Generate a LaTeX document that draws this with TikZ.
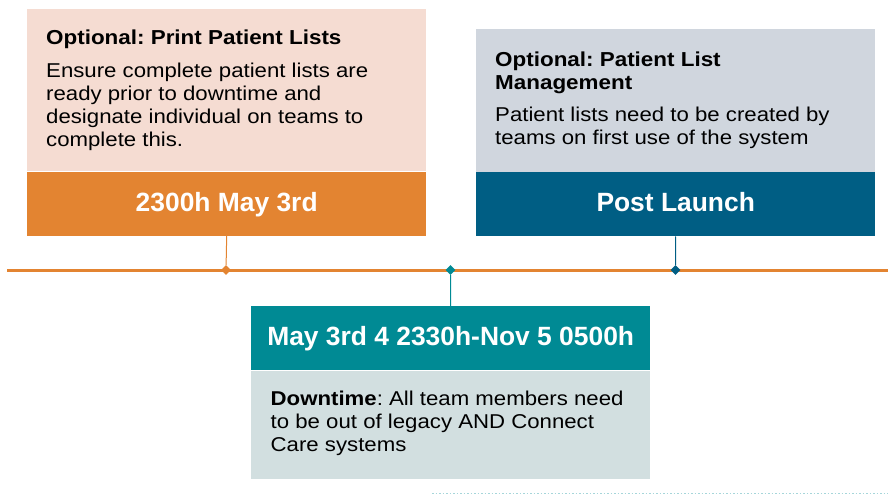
\documentclass[tikz,border=0pt]{standalone}
\usepackage{fontspec}
\setmainfont{Liberation Sans}
\newfontfamily\widesans[FakeStretch=1.11]{Liberation Sans}
\usetikzlibrary{positioning,shapes.geometric}
\frenchspacing

\definecolor{ahsorange}{HTML}{E38431}
\definecolor{ahspeach}{HTML}{F5DCD2}
\definecolor{ahsnavy}{HTML}{005E84}
\definecolor{ahsgrey}{HTML}{D0D6DE}
\definecolor{ahsteal}{HTML}{008A94}
\definecolor{ahsmist}{HTML}{D2DFE0}

\tikzset{
	card/.style={anchor=north west, inner sep=0, minimum width=399, draw=none},
	band/.style={inner sep=0, minimum width=399, minimum height=64, text=white,
		text height=19, text depth=4,
		font=\bfseries\fontsize{26.4}{30}\selectfont},
	heading/.style={anchor=base west, inner sep=0, align=left,
		font=\widesans\bfseries\fontsize{20.2}{23.3}\selectfont},
	blurb/.style={anchor=base west, inner sep=0, align=left,
		font=\widesans\fontsize{20}{23}\selectfont},
	marker/.style={diamond, inner sep=0, minimum size=10},
	stem/.style={line width=1}
}

\begin{document}
\begin{tikzpicture}[x=1pt,y=-1pt]
	\useasboundingbox (0,0) rectangle (888,494);
	% timeline
	\coordinate (tl-start) at (7,270);
	\coordinate (tl-end) at (888,270);
	\draw[ahsorange, line width=3] (tl-start) -- (tl-end);
	% first card (text nodes sit on the baseline of their last line)
	\node[card, fill=ahspeach, minimum height=162] (card1) at (27,9) {};
	\node[band, fill=ahsorange, below=0pt of card1] (date1) {2300h May 3rd};
	\node[heading] (head1) at (46,45) {Optional: Print Patient Lists};
	\node[blurb] (text1) at (46,146.5) {Ensure complete patient lists are\\ready prior to downtime and\\designate individual on teams to\\complete this.};
	% second card
	\node[card, fill=ahsgrey, minimum height=142.7] (card2) at (476,29) {};
	\node[band, fill=ahsnavy, below=0pt of card2] (post) {Post Launch};
	\node[heading] (head2) at (495,90) {Optional: Patient List\\Management};
	\node[blurb] (text2) at (495,145) {Patient lists need to be created by\\teams on first use of the system};
	% third card
	\node[band, fill=ahsteal, anchor=north west] (span) at (251,306) {May 3rd 4 2330h-Nov 5 0500h};
	\node[card, fill=ahsmist, minimum height=108, below=0pt of span] (card3) {};
	\node[blurb] (text3) at (270.5,451.5) {\textbf{Downtime}: All team members need\\to be out of legacy AND Connect\\Care systems};
	% markers
	\node[marker, fill=ahsorange] (m1) at (226,270) {};
	\node[marker, fill=ahsteal] (m2) at (450.5,270) {};
	\node[marker, fill=ahsnavy] (m3) at (675.5,270) {};
	\draw[stem, ahsorange] (date1.south) -- (m1);
	\draw[stem, ahsnavy] (post.south) -- (m3);
	\draw[stem, ahsteal] (m2) -- (span.north);
	% faint edge of the next row
	\draw[ahsteal!35, line width=1.5, dotted] (432,493.5) -- (888,493.5);
\end{tikzpicture}
\end{document}
